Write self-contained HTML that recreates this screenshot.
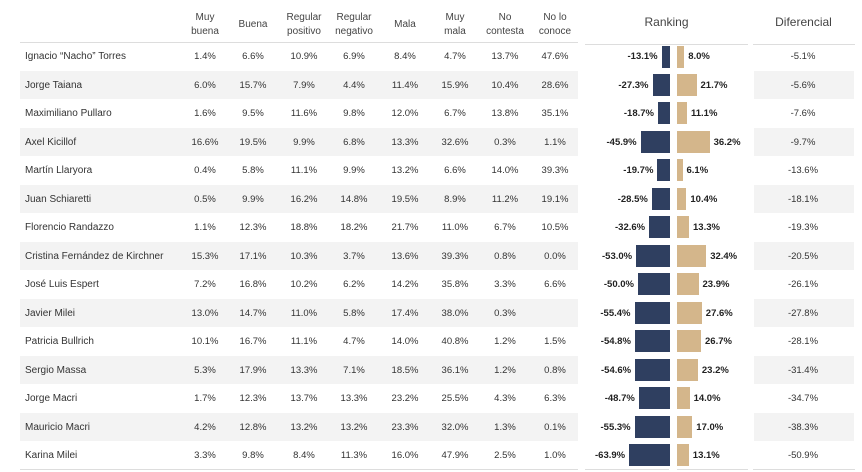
<!DOCTYPE html>
<html><head><meta charset="utf-8"><style>
body{margin:0;width:862px;height:472px;background:#fff;font-family:"Liberation Sans",sans-serif;position:relative;overflow:hidden;color:#333}
div{position:absolute}
.h{font-size:10px;color:#444;text-align:center;line-height:14px}
.r{left:0;width:862px;height:28.5px}
.bg{left:20px;width:558px;height:28.5px;background:#f3f3f3}
.bg2{left:754px;width:100px;height:28.5px;background:#f3f3f3}
.c{font-size:9.5px;width:50px;text-align:center;line-height:28.5px;color:#333;top:1px}
.n{font-size:10px;left:25px;line-height:28.5px;color:#333;top:1px}
.nb{background:#2f3f60;height:22px}
.tb{background:#d4b68b;height:22px}
.lb{font-size:9.5px;font-weight:bold;line-height:28.5px;color:#222;top:1px}
.line{height:1px;background:#ddd}
</style></head><body>
<div class="h" style="left:180px;top:11px;width:50px">Muy<br>buena</div>
<div class="h" style="left:228px;top:18px;width:50px">Buena</div>
<div class="h" style="left:279px;top:11px;width:50px">Regular<br>positivo</div>
<div class="h" style="left:329px;top:11px;width:50px">Regular<br>negativo</div>
<div class="h" style="left:380px;top:18px;width:50px">Mala</div>
<div class="h" style="left:430px;top:11px;width:50px">Muy<br>mala</div>
<div class="h" style="left:480px;top:11px;width:50px">No<br>contesta</div>
<div class="h" style="left:530px;top:11px;width:50px">No lo<br>conoce</div>
<div class="h" style="left:585px;top:15px;width:163px;font-size:12px">Ranking</div>
<div class="h" style="left:752px;top:15px;width:103px;font-size:12px">Diferencial</div>
<div class="line" style="left:20px;top:42px;width:558px"></div>
<div class="line" style="left:585px;top:44px;width:163px"></div>
<div class="line" style="left:753px;top:44px;width:102px"></div>
<div class="line" style="left:20px;top:469px;width:558px"></div>
<div class="line" style="left:585px;top:469px;width:84px"></div>
<div class="line" style="left:677px;top:469px;width:71px"></div>
<div class="line" style="left:753px;top:469px;width:102px"></div>

<div class="bg" style="top:70.5px"></div><div class="bg2" style="top:70.5px"></div>
<div class="bg" style="top:127.5px"></div><div class="bg2" style="top:127.5px"></div>
<div class="bg" style="top:184.5px"></div><div class="bg2" style="top:184.5px"></div>
<div class="bg" style="top:241.5px"></div><div class="bg2" style="top:241.5px"></div>
<div class="bg" style="top:298.5px"></div><div class="bg2" style="top:298.5px"></div>
<div class="bg" style="top:355.5px"></div><div class="bg2" style="top:355.5px"></div>
<div class="bg" style="top:412.5px"></div><div class="bg2" style="top:412.5px"></div>

<div class="r" style="top:42px"><div class="n">Ignacio “Nacho” Torres</div><div class="c" style="left:180px">1.4%</div><div class="c" style="left:228px">6.6%</div><div class="c" style="left:279px">10.9%</div><div class="c" style="left:329px">6.9%</div><div class="c" style="left:380px">8.4%</div><div class="c" style="left:430px">4.7%</div><div class="c" style="left:480px">13.7%</div><div class="c" style="left:530px">47.6%</div>
<div class="nb" style="left:661.6px;width:8.4px;top:4px"></div><div class="lb" style="right:204.4px">-13.1%</div><div class="tb" style="left:677px;width:7.2px;top:4px"></div><div class="lb" style="left:688.2px">8.0%</div><div class="c" style="left:778px;width:50px">-5.1%</div></div>

<div class="r" style="top:70.5px"><div class="n">Jorge Taiana</div><div class="c" style="left:180px">6.0%</div><div class="c" style="left:228px">15.7%</div><div class="c" style="left:279px">7.9%</div><div class="c" style="left:329px">4.4%</div><div class="c" style="left:380px">11.4%</div><div class="c" style="left:430px">15.9%</div><div class="c" style="left:480px">10.4%</div><div class="c" style="left:530px">28.6%</div>
<div class="nb" style="left:652.5px;width:17.5px;top:3px"></div><div class="lb" style="right:213.5px">-27.3%</div><div class="tb" style="left:677px;width:19.5px;top:3px"></div><div class="lb" style="left:700.5px">21.7%</div><div class="c" style="left:778px;width:50px">-5.6%</div></div>

<div class="r" style="top:99px"><div class="n">Maximiliano Pullaro</div><div class="c" style="left:180px">1.6%</div><div class="c" style="left:228px">9.5%</div><div class="c" style="left:279px">11.6%</div><div class="c" style="left:329px">9.8%</div><div class="c" style="left:380px">12.0%</div><div class="c" style="left:430px">6.7%</div><div class="c" style="left:480px">13.8%</div><div class="c" style="left:530px">35.1%</div>
<div class="nb" style="left:658px;width:12px;top:3px"></div><div class="lb" style="right:208px">-18.7%</div><div class="tb" style="left:677px;width:10px;top:3px"></div><div class="lb" style="left:691px">11.1%</div><div class="c" style="left:778px;width:50px">-7.6%</div></div>

<div class="r" style="top:127.5px"><div class="n">Axel Kicillof</div><div class="c" style="left:180px">16.6%</div><div class="c" style="left:228px">19.5%</div><div class="c" style="left:279px">9.9%</div><div class="c" style="left:329px">6.8%</div><div class="c" style="left:380px">13.3%</div><div class="c" style="left:430px">32.6%</div><div class="c" style="left:480px">0.3%</div><div class="c" style="left:530px">1.1%</div>
<div class="nb" style="left:640.6px;width:29.4px;top:3px"></div><div class="lb" style="right:225.4px">-45.9%</div><div class="tb" style="left:677px;width:32.6px;top:3px"></div><div class="lb" style="left:713.6px">36.2%</div><div class="c" style="left:778px;width:50px">-9.7%</div></div>

<div class="r" style="top:156px"><div class="n">Martín Llaryora</div><div class="c" style="left:180px">0.4%</div><div class="c" style="left:228px">5.8%</div><div class="c" style="left:279px">11.1%</div><div class="c" style="left:329px">9.9%</div><div class="c" style="left:380px">13.2%</div><div class="c" style="left:430px">6.6%</div><div class="c" style="left:480px">14.0%</div><div class="c" style="left:530px">39.3%</div>
<div class="nb" style="left:657.4px;width:12.6px;top:3px"></div><div class="lb" style="right:208.6px">-19.7%</div><div class="tb" style="left:677px;width:5.5px;top:3px"></div><div class="lb" style="left:686.5px">6.1%</div><div class="c" style="left:778px;width:50px">-13.6%</div></div>

<div class="r" style="top:184.5px"><div class="n">Juan Schiaretti</div><div class="c" style="left:180px">0.5%</div><div class="c" style="left:228px">9.9%</div><div class="c" style="left:279px">16.2%</div><div class="c" style="left:329px">14.8%</div><div class="c" style="left:380px">19.5%</div><div class="c" style="left:430px">8.9%</div><div class="c" style="left:480px">11.2%</div><div class="c" style="left:530px">19.1%</div>
<div class="nb" style="left:651.8px;width:18.2px;top:3px"></div><div class="lb" style="right:214.2px">-28.5%</div><div class="tb" style="left:677px;width:9.4px;top:3px"></div><div class="lb" style="left:690.4px">10.4%</div><div class="c" style="left:778px;width:50px">-18.1%</div></div>

<div class="r" style="top:213px"><div class="n">Florencio Randazzo</div><div class="c" style="left:180px">1.1%</div><div class="c" style="left:228px">12.3%</div><div class="c" style="left:279px">18.8%</div><div class="c" style="left:329px">18.2%</div><div class="c" style="left:380px">21.7%</div><div class="c" style="left:430px">11.0%</div><div class="c" style="left:480px">6.7%</div><div class="c" style="left:530px">10.5%</div>
<div class="nb" style="left:649.1px;width:20.9px;top:3px"></div><div class="lb" style="right:216.9px">-32.6%</div><div class="tb" style="left:677px;width:12px;top:3px"></div><div class="lb" style="left:693px">13.3%</div><div class="c" style="left:778px;width:50px">-19.3%</div></div>

<div class="r" style="top:241.5px"><div class="n">Cristina Fernández de Kirchner</div><div class="c" style="left:180px">15.3%</div><div class="c" style="left:228px">17.1%</div><div class="c" style="left:279px">10.3%</div><div class="c" style="left:329px">3.7%</div><div class="c" style="left:380px">13.6%</div><div class="c" style="left:430px">39.3%</div><div class="c" style="left:480px">0.8%</div><div class="c" style="left:530px">0.0%</div>
<div class="nb" style="left:636.1px;width:33.9px;top:3px"></div><div class="lb" style="right:229.9px">-53.0%</div><div class="tb" style="left:677px;width:29.2px;top:3px"></div><div class="lb" style="left:710.2px">32.4%</div><div class="c" style="left:778px;width:50px">-20.5%</div></div>

<div class="r" style="top:270px"><div class="n">José Luis Espert</div><div class="c" style="left:180px">7.2%</div><div class="c" style="left:228px">16.8%</div><div class="c" style="left:279px">10.2%</div><div class="c" style="left:329px">6.2%</div><div class="c" style="left:380px">14.2%</div><div class="c" style="left:430px">35.8%</div><div class="c" style="left:480px">3.3%</div><div class="c" style="left:530px">6.6%</div>
<div class="nb" style="left:638px;width:32px;top:3px"></div><div class="lb" style="right:228px">-50.0%</div><div class="tb" style="left:677px;width:21.5px;top:3px"></div><div class="lb" style="left:702.5px">23.9%</div><div class="c" style="left:778px;width:50px">-26.1%</div></div>

<div class="r" style="top:298.5px"><div class="n">Javier Milei</div><div class="c" style="left:180px">13.0%</div><div class="c" style="left:228px">14.7%</div><div class="c" style="left:279px">11.0%</div><div class="c" style="left:329px">5.8%</div><div class="c" style="left:380px">17.4%</div><div class="c" style="left:430px">38.0%</div><div class="c" style="left:480px">0.3%</div>
<div class="nb" style="left:634.5px;width:35.5px;top:3px"></div><div class="lb" style="right:231.5px">-55.4%</div><div class="tb" style="left:677px;width:24.8px;top:3px"></div><div class="lb" style="left:705.8px">27.6%</div><div class="c" style="left:778px;width:50px">-27.8%</div></div>

<div class="r" style="top:327px"><div class="n">Patricia Bullrich</div><div class="c" style="left:180px">10.1%</div><div class="c" style="left:228px">16.7%</div><div class="c" style="left:279px">11.1%</div><div class="c" style="left:329px">4.7%</div><div class="c" style="left:380px">14.0%</div><div class="c" style="left:430px">40.8%</div><div class="c" style="left:480px">1.2%</div><div class="c" style="left:530px">1.5%</div>
<div class="nb" style="left:634.9px;width:35.1px;top:3px"></div><div class="lb" style="right:231.1px">-54.8%</div><div class="tb" style="left:677px;width:24px;top:3px"></div><div class="lb" style="left:705px">26.7%</div><div class="c" style="left:778px;width:50px">-28.1%</div></div>

<div class="r" style="top:355.5px"><div class="n">Sergio Massa</div><div class="c" style="left:180px">5.3%</div><div class="c" style="left:228px">17.9%</div><div class="c" style="left:279px">13.3%</div><div class="c" style="left:329px">7.1%</div><div class="c" style="left:380px">18.5%</div><div class="c" style="left:430px">36.1%</div><div class="c" style="left:480px">1.2%</div><div class="c" style="left:530px">0.8%</div>
<div class="nb" style="left:635.1px;width:34.9px;top:3px"></div><div class="lb" style="right:230.9px">-54.6%</div><div class="tb" style="left:677px;width:20.9px;top:3px"></div><div class="lb" style="left:701.9px">23.2%</div><div class="c" style="left:778px;width:50px">-31.4%</div></div>

<div class="r" style="top:384px"><div class="n">Jorge Macri</div><div class="c" style="left:180px">1.7%</div><div class="c" style="left:228px">12.3%</div><div class="c" style="left:279px">13.7%</div><div class="c" style="left:329px">13.3%</div><div class="c" style="left:380px">23.2%</div><div class="c" style="left:430px">25.5%</div><div class="c" style="left:480px">4.3%</div><div class="c" style="left:530px">6.3%</div>
<div class="nb" style="left:638.8px;width:31.2px;top:3px"></div><div class="lb" style="right:227.2px">-48.7%</div><div class="tb" style="left:677px;width:12.6px;top:3px"></div><div class="lb" style="left:693.6px">14.0%</div><div class="c" style="left:778px;width:50px">-34.7%</div></div>

<div class="r" style="top:412.5px"><div class="n">Mauricio Macri</div><div class="c" style="left:180px">4.2%</div><div class="c" style="left:228px">12.8%</div><div class="c" style="left:279px">13.2%</div><div class="c" style="left:329px">13.2%</div><div class="c" style="left:380px">23.3%</div><div class="c" style="left:430px">32.0%</div><div class="c" style="left:480px">1.3%</div><div class="c" style="left:530px">0.1%</div>
<div class="nb" style="left:634.6px;width:35.4px;top:3px"></div><div class="lb" style="right:231.4px">-55.3%</div><div class="tb" style="left:677px;width:15.3px;top:3px"></div><div class="lb" style="left:696.3px">17.0%</div><div class="c" style="left:778px;width:50px">-38.3%</div></div>

<div class="r" style="top:441px"><div class="n">Karina Milei</div><div class="c" style="left:180px">3.3%</div><div class="c" style="left:228px">9.8%</div><div class="c" style="left:279px">8.4%</div><div class="c" style="left:329px">11.3%</div><div class="c" style="left:380px">16.0%</div><div class="c" style="left:430px">47.9%</div><div class="c" style="left:480px">2.5%</div><div class="c" style="left:530px">1.0%</div>
<div class="nb" style="left:629.1px;width:40.9px;top:3px"></div><div class="lb" style="right:236.9px">-63.9%</div><div class="tb" style="left:677px;width:11.8px;top:3px"></div><div class="lb" style="left:692.8px">13.1%</div><div class="c" style="left:778px;width:50px">-50.9%</div></div>
</body></html>
